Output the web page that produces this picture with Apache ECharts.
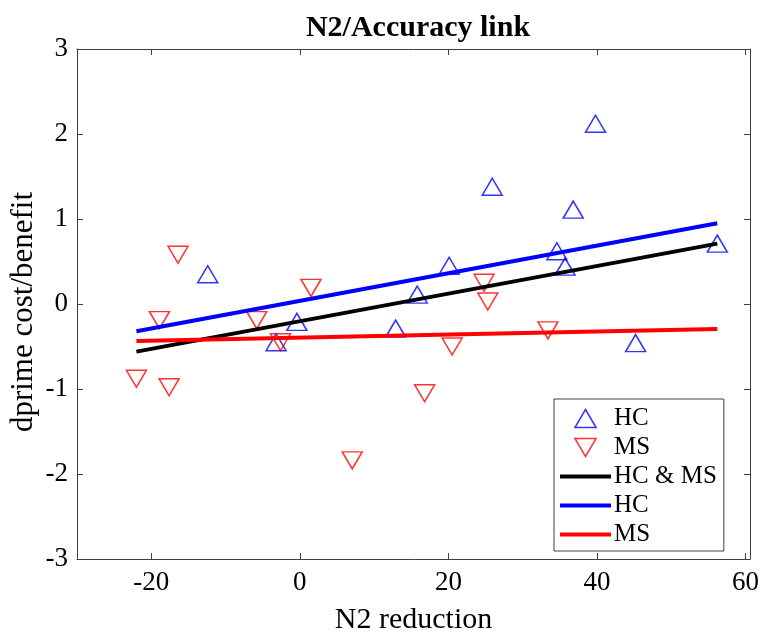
<!DOCTYPE html>
<html>
<head>
<meta charset="utf-8">
<script src="https://cdn.jsdelivr.net/npm/echarts@6/dist/echarts.min.js"></script>
<style>
  html, body { margin: 0; padding: 0; background: #fff; }
  #chart { width: 760px; height: 635px; }
</style>
</head>
<body>
<div id="chart"></div>
<script>
// HC (triangle up) and MS (triangle down) points
const hcX = [-12.4, -3.2, -0.4, 12.9, 15.8, 20.1, 25.9, 34.6, 35.7, 36.8, 39.8, 45.2, 56.2];
const hcY = [0.35, -0.45, -0.21, -0.29, 0.11, 0.45, 1.38, 0.62, 0.44, 1.11, 2.12, -0.46, 0.71];
const msX = [-22.0, -18.9, -17.6, -16.4, -5.8, -2.6, 1.5, 7.05, 16.8, 20.5, 24.8, 25.3, 33.4];
const msY = [-0.88, -0.19, -0.98, 0.58, -0.19, -0.45, 0.19, -1.84, -1.05, -0.5, 0.25, 0.03, -0.31];

// fitted lines, end points
const fitX = [-22.0, 56.2];
const allFitY = [-0.56, 0.71];
const hcFitY = [-0.32, 0.95];
const msFitY = [-0.435, -0.294];

const xTicks = [-20, 0, 20, 40, 60];

const font = "Liberation Serif";
const axisColor = "#404040";

// legend icons
const upIcon = "path://M10,0 L20,17 L0,17 Z";
const downIcon = "path://M0,0 L20,0 L10,17 Z";
const lineIcon = "path://M0,0 L51,0 L51,4 L0,4 Z";

function pairs(xs, ys) {
  return xs.map(function (x, i) { return [x, ys[i]]; });
}

const chart = echarts.init(document.getElementById("chart"));

const xBase = {
  type: "value",
  min: -30,
  max: 60.6,
  splitLine: { show: false },
  axisLine: { onZero: false, lineStyle: { color: axisColor, width: 1 } },
  axisTick: { inside: true, length: 6, customValues: xTicks, lineStyle: { color: axisColor } },
};
const yBase = {
  type: "value",
  min: -3,
  max: 3,
  interval: 1,
  splitLine: { show: false },
  axisLine: { onZero: false, lineStyle: { color: axisColor, width: 1 } },
  axisTick: { inside: true, length: 6, lineStyle: { color: axisColor } },
};

const option = {
  animation: false,
  backgroundColor: "#fff",
  title: {
    text: "N2/Accuracy link",
    left: 413,
    textAlign: "center",
    top: 8,
    textStyle: { fontFamily: font, fontSize: 30, fontWeight: "bold", color: "#000" },
  },
  grid: { left: 77, right: 10, top: 49, bottom: 76, outerBoundsMode: "none" },
  xAxis: [
    Object.assign({}, xBase, {
      position: "bottom",
      name: "N2 reduction",
      nameLocation: "middle",
      nameGap: 46,
      nameMoveOverlap: false,
      nameTextStyle: { fontFamily: font, fontSize: 30, color: "#000" },
      axisLabel: { customValues: xTicks, margin: 10, fontFamily: font, fontSize: 27, color: "#000" },
    }),
    Object.assign({}, xBase, { position: "top", axisLabel: { show: false } }),
  ],
  yAxis: [
    Object.assign({}, yBase, {
      position: "left",
      name: "dprime cost/benefit",
      nameLocation: "middle",
      nameGap: 38,
      nameMoveOverlap: false,
      nameTextStyle: { fontFamily: font, fontSize: 31, color: "#000", padding: [0, 16, 0, 0] },
      axisLabel: { margin: 9, fontFamily: font, fontSize: 27, color: "#000" },
    }),
    Object.assign({}, yBase, { position: "right", axisLabel: { show: false } }),
  ],
  legend: {
    orient: "vertical",
    left: 554,
    top: 399,
    padding: [7, 7, 4, 6],
    itemGap: 4,
    itemWidth: 51,
    itemHeight: 18,
    borderColor: axisColor,
    borderWidth: 1,
    backgroundColor: "#fff",
    itemStyle: { borderWidth: 1.5 },
    formatter: function (name) { return name.trim(); },
    textStyle: { fontFamily: font, fontSize: 25, color: "#000", lineHeight: 25, padding: [0, 0, 0, -2] },
    data: [
      { name: "HC", icon: upIcon },
      { name: "MS", icon: downIcon },
      { name: "HC & MS", icon: lineIcon },
      { name: "HC ", icon: lineIcon },
      { name: "MS ", icon: lineIcon },
    ],
  },
  series: [
    {
      name: "HC",
      type: "scatter",
      data: pairs(hcX, hcY),
      symbol: "triangle",
      symbolSize: [20, 17],
      itemStyle: { color: "rgba(0,0,0,0)", borderColor: "#0000ff", borderWidth: 1.5 },
      z: 2,
    },
    {
      name: "MS",
      type: "scatter",
      data: pairs(msX, msY),
      symbol: "triangle",
      symbolRotate: 180,
      symbolSize: [20, 17],
      itemStyle: { color: "rgba(0,0,0,0)", borderColor: "#ff0000", borderWidth: 1.5 },
      z: 2,
    },
    {
      name: "HC & MS",
      type: "line",
      data: pairs(fitX, allFitY),
      symbol: "none",
      itemStyle: { color: "#000" },
      lineStyle: { color: "#000", width: 4 },
      z: 3,
    },
    {
      name: "HC ",
      type: "line",
      data: pairs(fitX, hcFitY),
      symbol: "none",
      itemStyle: { color: "#0000ff" },
      lineStyle: { color: "#0000ff", width: 4 },
      z: 3,
    },
    {
      name: "MS ",
      type: "line",
      data: pairs(fitX, msFitY),
      symbol: "none",
      itemStyle: { color: "#ff0000" },
      lineStyle: { color: "#ff0000", width: 4 },
      z: 3,
    },
  ],
};

chart.setOption(option);
</script>
</body>
</html>
